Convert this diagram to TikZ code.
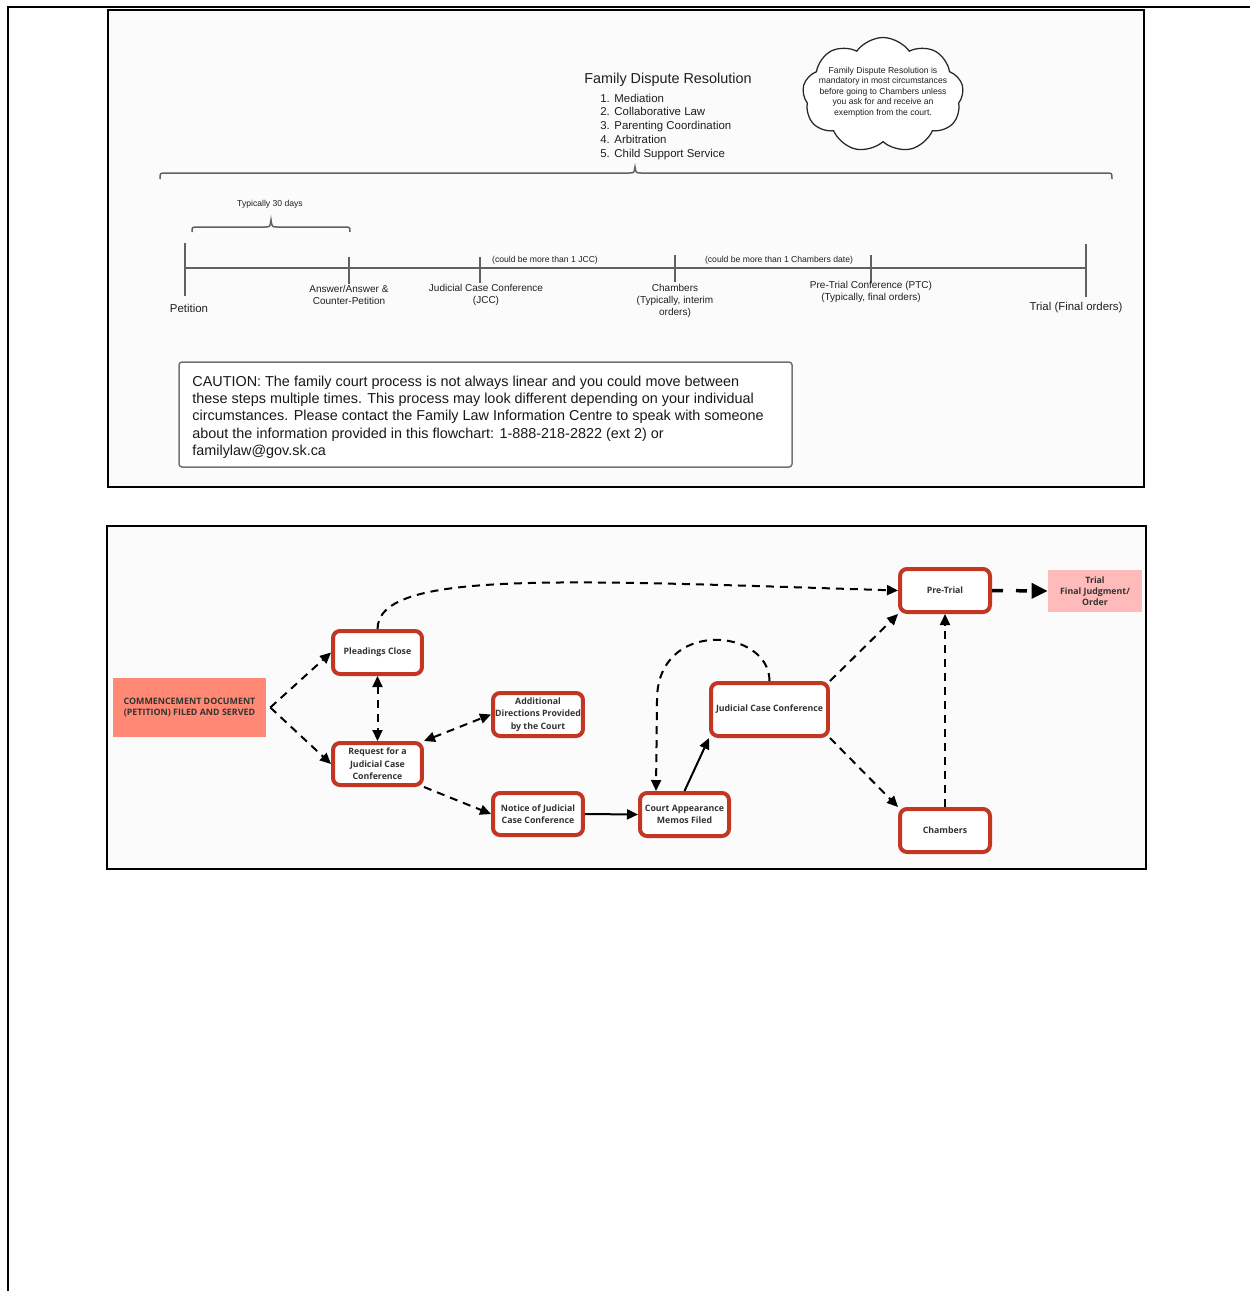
\documentclass[tikz,border=0pt]{standalone}
\usepackage{fontspec}
\setmainfont{Liberation Sans}
\newfontfamily\boxfont{Open Sans}
\usetikzlibrary{arrows.meta,shapes.symbols,calc}
\definecolor{boxred}{RGB}{193,55,35}
\definecolor{salmon}{RGB}{255,137,117}
\definecolor{trialpink}{RGB}{255,186,186}
\newcommand\setfs[2]{\fontsize{#1}{#2}\selectfont}

\begin{document}
\begin{tikzpicture}[x=0.02cm,y=-0.02cm,
  panel/.style={draw=black, line width=0.4mm, fill=black!1.5},
  tline/.style={draw=black!62, line width=0.3mm},
  tlabel/.style={font=\setfs{5.7}{6.8}, align=center, text=black!88, inner sep=0},
  bigtlabel/.style={font=\setfs{6.5}{7.8}, align=center, text=black!88, inner sep=0},
  smalllabel/.style={font=\setfs{4.9}{5.9}, align=center, text=black!88, inner sep=0},
  flowbox/.style={draw=boxred, line width=0.8mm, rounded corners=1.4mm, fill=white,
    align=center, font=\boxfont\bfseries\setfs{5.0}{7.1}, text=black!80, inner sep=0,
    minimum width=1.78cm, minimum height=0.86cm},
  tipA/.tip={Triangle[length=2.2mm,width=2mm]},
  dasharrow/.style={line width=0.4mm, dash pattern=on 1.6mm off 1.2mm, -tipA},
  dashboth/.style={line width=0.4mm, dash pattern=on 1.6mm off 1.2mm, tipA-tipA},
  solidarrow/.style={line width=0.4mm, -tipA},
  thickarrow/.style={line width=0.7mm, dash pattern=on 2.2mm off 2.6mm,
    -{Triangle[length=3.2mm,width=3mm]}}
]
\useasboundingbox (0,0) rectangle (1250,1291);
\fill[white] (0,0) rectangle (1250,1291);

% page frame
\draw[line width=0.3mm] (7,7) -- (1250,7);
\draw[line width=0.3mm] (8,7) -- (8,1291);

% ---------------- timeline panel ----------------
\draw[panel] (108,10) rectangle (1144,487);

% family dispute resolution list
\node[font=\setfs{8.2}{9.8}, text=black!88, inner sep=0] (fdrtitle) at (668,80) {Family Dispute Resolution};
\node[font=\setfs{6.5}{7.95}, text=black!88, align=left, anchor=west, inner sep=0] (fdrlist) at (600,127)
  {1.\hspace{2.6pt}Mediation\\2.\hspace{2.6pt}Collaborative Law\\3.\hspace{2.6pt}Parenting Coordination\\4.\hspace{2.6pt}Arbitration\\5.\hspace{2.6pt}Child Support Service};

% note cloud
\node[cloud, draw=black!85, line width=0.25mm, fill=white, cloud puffs=9, cloud puff arc=110,
  aspect=1.35, minimum width=3.22cm, minimum height=2.3cm, inner sep=0] (note) at (883,95) {};
\node[align=center, font=\setfs{4.9}{5.95}, text=black!88, inner sep=0] (notetext) at (883,92)
  {Family Dispute Resolution is\\mandatory in most circumstances\\before going to Chambers unless\\you ask for and receive an\\exemption from the court.};

% braces
\draw[tline] (160,179) .. controls (160,173) .. (166,173) -- (629,173)
  .. controls (634,173) .. (635,167) .. controls (636,173) .. (641,173) -- (1106,173)
  .. controls (1112,173) .. (1112,179);
\draw[tline] (192,232) .. controls (192,227) .. (198,227) -- (265,227)
  .. controls (270,227) .. (271,220) .. controls (272,227) .. (277,227) -- (344,227)
  .. controls (350,227) .. (350,232);
\node[smalllabel] (thirty) at (270,204) {Typically 30 days};

% time axis and ticks
\draw[tline] (185,268) -- (1086,268);
\draw[tline] (185,243) -- (185,296);
\draw[tline] (349,257) -- (349,284);
\draw[tline] (480,257) -- (480,283);
\draw[tline] (675,255) -- (675,282);
\draw[tline] (871,255) -- (871,283);
\draw[tline] (1086,244) -- (1086,297);

\node[bigtlabel] (petition) at (189,308) {Petition};
\node[tlabel] (answer) at (349,295) {Answer/Answer \&\\Counter-Petition};
\node[tlabel] (jcclabel) at (486,295) {Judicial Case Conference\\(JCC)};
\node[tlabel] (chlabel) at (675,301) {Chambers\\(Typically, interim\\orders)};
\node[tlabel] (ptclabel) at (871,292) {Pre-Trial Conference (PTC)\\(Typically, final orders)};
\node[bigtlabel] (triallabel) at (1076,308) {Trial (Final orders)};
\node[smalllabel] (morejcc) at (545,260) {(could be more than 1 JCC)};
\node[smalllabel] (morech) at (779,260) {(could be more than 1 Chambers date)};

% caution box
\draw[draw=black!55, line width=0.3mm, rounded corners=0.6mm, fill=white] (179,362) rectangle (792,467);
\node[anchor=west, align=left, font=\setfs{8.2}{9.85}, text=black!90, inner sep=0] (caution) at (192,417)
  {CAUTION: The family court process is not always linear and you could move between\\
   these steps multiple times. This process may look different depending on your individual\\
   circumstances. Please contact the Family Law Information Centre to speak with someone\\
   about the information provided in this flowchart: 1-888-218-2822 (ext 2) or\\
   familylaw@gov.sk.ca};

% ---------------- flowchart panel ----------------
\draw[panel] (107,526) rectangle (1146,869);

\node[fill=salmon, minimum width=3.06cm, minimum height=1.18cm, align=center, inner sep=0,
  font=\boxfont\bfseries\setfs{5.05}{6.6}, text=black!80] (cm) at (189.5,707.5)
  {COMMENCEMENT DOCUMENT\\(PETITION) FILED AND SERVED};
\node[flowbox] (pl) at (377.5,652.5) {Pleadings Close};
\node[flowbox, minimum height=0.84cm] (rq) at (377.5,764) {Request for a\\Judicial Case\\Conference};
\node[flowbox, minimum width=1.8cm] (ad) at (538,714.5) {Additional\\Directions Provided\\by the Court};
\node[flowbox, minimum width=1.8cm, minimum height=0.84cm] (nt) at (538,814) {Notice of Judicial\\Case Conference};
\node[flowbox] (ca) at (684.5,814.5) {Court Appearance\\Memos Filed};
\node[flowbox, minimum width=2.34cm, minimum height=1.06cm] (jc) at (769.5,709.5) {Judicial Case Conference};
\node[flowbox, minimum width=1.8cm] (pt) at (945,590.5) {Pre-Trial};
\node[flowbox, minimum width=1.8cm] (ch) at (945,830.5) {Chambers};
\node[fill=trialpink, minimum width=1.88cm, minimum height=0.84cm, align=center, inner sep=0,
  font=\boxfont\bfseries\setfs{5.0}{6.4}, text=black!80] (trial) at (1095,591)
  {Trial\\Final Judgment/\\Order};

\coordinate (fork) at ([xshift=0.08cm]cm.east);
\coordinate (loopend) at ([xshift=0.36cm]ca.north west);

\draw[dasharrow] (fork) -- (pl.west);
\draw[dasharrow] (fork) -- (rq.west);
\draw[dashboth] (pl.south) -- (rq.north);
\draw[dashboth] (rq.north east) -- (ad.west);
\draw[dasharrow] (rq.south east) -- (nt.west);
\draw[solidarrow] (nt.east) -- (ca.west);
\draw[solidarrow] (ca.north) -- (jc.south west);
\draw[dasharrow] (jc.north) .. controls (769.5,628) and (657,618) .. (657,700) -- (loopend);
\draw[dasharrow] (jc.north east) -- (pt.south west);
\draw[dasharrow] (jc.south east) -- (ch.north west);
\draw[dasharrow] (ch.north) -- (pt.south);
\draw[dasharrow] (pl.north) .. controls (378,570) and (560,580) .. (pt.west);
\draw[thickarrow] (pt.east) -- (trial.west);
\end{tikzpicture}
\end{document}
